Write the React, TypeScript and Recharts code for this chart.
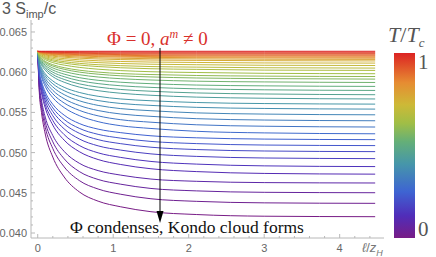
import React from 'react'
import { LineChart, Line, XAxis, YAxis, ReferenceLine, ReferenceDot } from 'recharts'

// ell / z_H sample positions
const ellOverZ = [0, 0.02, 0.05, 0.1, 0.2, 0.35, 0.55, 0.8, 1.1, 1.5, 2.1, 3, 4.47]

// 3 S_imp / c, one row per temperature, lowest T first
const entropyCurves = [
  [0.0626, 0.05766, 0.05499, 0.05231, 0.04944, 0.04697, 0.04512, 0.04396, 0.04326, 0.04265, 0.0423, 0.04209, 0.04203],
  [0.0626, 0.05806, 0.0556, 0.05314, 0.0505, 0.04823, 0.04653, 0.04547, 0.04482, 0.04426, 0.04394, 0.04375, 0.04369],
  [0.0626, 0.05838, 0.05609, 0.0538, 0.05134, 0.04923, 0.04765, 0.04666, 0.04607, 0.04554, 0.04524, 0.04506, 0.04501],
  [0.0626, 0.05867, 0.05654, 0.05441, 0.05212, 0.05015, 0.04868, 0.04776, 0.0472, 0.04671, 0.04643, 0.04627, 0.04622],
  [0.0626, 0.05923, 0.05744, 0.05556, 0.05342, 0.05155, 0.05012, 0.04914, 0.04852, 0.04799, 0.04764, 0.04741, 0.04732],
  [0.0626, 0.05944, 0.05776, 0.056, 0.05399, 0.05224, 0.05089, 0.04997, 0.0494, 0.0489, 0.04857, 0.04835, 0.04826],
  [0.0626, 0.05966, 0.0581, 0.05645, 0.05458, 0.05295, 0.0517, 0.05084, 0.05031, 0.04984, 0.04953, 0.04933, 0.04925],
  [0.0626, 0.05985, 0.05839, 0.05685, 0.05511, 0.05358, 0.05241, 0.05161, 0.05111, 0.05067, 0.05038, 0.0502, 0.05012],
  [0.0626, 0.06002, 0.05864, 0.0572, 0.05556, 0.05412, 0.05302, 0.05227, 0.0518, 0.05139, 0.05112, 0.05094, 0.05087],
  [0.0626, 0.06018, 0.05889, 0.05754, 0.056, 0.05466, 0.05362, 0.05292, 0.05248, 0.05209, 0.05184, 0.05168, 0.05161],
  [0.0626, 0.06054, 0.05941, 0.05823, 0.05684, 0.0556, 0.0546, 0.05385, 0.05334, 0.053, 0.05265, 0.05245, 0.05234],
  [0.0626, 0.06071, 0.05967, 0.05858, 0.05731, 0.05617, 0.05526, 0.05457, 0.05409, 0.05378, 0.05346, 0.05328, 0.05318],
  [0.0626, 0.06087, 0.05991, 0.05892, 0.05774, 0.0567, 0.05586, 0.05523, 0.0548, 0.05451, 0.05422, 0.05405, 0.05396],
  [0.0626, 0.06102, 0.06014, 0.05923, 0.05816, 0.05721, 0.05645, 0.05587, 0.05547, 0.05521, 0.05494, 0.05479, 0.0547],
  [0.0626, 0.06116, 0.06036, 0.05954, 0.05856, 0.0577, 0.057, 0.05647, 0.05611, 0.05587, 0.05563, 0.05549, 0.05541],
  [0.0626, 0.06128, 0.06056, 0.0598, 0.05891, 0.05812, 0.05748, 0.057, 0.05667, 0.05645, 0.05623, 0.0561, 0.05603],
  [0.0626, 0.0615, 0.0609, 0.06024, 0.05944, 0.05875, 0.05815, 0.0577, 0.05738, 0.05713, 0.0569, 0.05676, 0.05667],
  [0.0626, 0.0616, 0.06105, 0.06046, 0.05972, 0.0591, 0.05855, 0.05815, 0.05785, 0.05763, 0.05742, 0.05729, 0.0572],
  [0.0626, 0.06169, 0.0612, 0.06066, 0.06, 0.05944, 0.05895, 0.05858, 0.05831, 0.05811, 0.05793, 0.05781, 0.05773],
  [0.0626, 0.06179, 0.06135, 0.06086, 0.06027, 0.05976, 0.05932, 0.05899, 0.05875, 0.05857, 0.0584, 0.0583, 0.05823],
  [0.0626, 0.06188, 0.06149, 0.06106, 0.06053, 0.06008, 0.05969, 0.0594, 0.05919, 0.05903, 0.05888, 0.05879, 0.05872],
  [0.0626, 0.06196, 0.06161, 0.06123, 0.06076, 0.06036, 0.06001, 0.05975, 0.05955, 0.05941, 0.05928, 0.0592, 0.05914],
  [0.0626, 0.06202, 0.0617, 0.06135, 0.06093, 0.06056, 0.06025, 0.06001, 0.05983, 0.05971, 0.05959, 0.05951, 0.05946],
  [0.0626, 0.06212, 0.06185, 0.06156, 0.06119, 0.06088, 0.0606, 0.06037, 0.0602, 0.06006, 0.05996, 0.05986, 0.05981],
  [0.0626, 0.06219, 0.06196, 0.06171, 0.06139, 0.06113, 0.06089, 0.0607, 0.06055, 0.06043, 0.06035, 0.06026, 0.06022],
  [0.0626, 0.06224, 0.06204, 0.06182, 0.06154, 0.06131, 0.0611, 0.06093, 0.06081, 0.0607, 0.06063, 0.06055, 0.06051],
  [0.0626, 0.0623, 0.06213, 0.06194, 0.0617, 0.06151, 0.06133, 0.06119, 0.06108, 0.06099, 0.06093, 0.06086, 0.06083],
  [0.0626, 0.06235, 0.06221, 0.06205, 0.06185, 0.06169, 0.06154, 0.06142, 0.06133, 0.06126, 0.06121, 0.06115, 0.06113],
  [0.0626, 0.06239, 0.06228, 0.06215, 0.06199, 0.06186, 0.06174, 0.06164, 0.06157, 0.06151, 0.06147, 0.06143, 0.0614],
  [0.0626, 0.06243, 0.06233, 0.06222, 0.06209, 0.06198, 0.06188, 0.06179, 0.06173, 0.06168, 0.06165, 0.06161, 0.06159],
  [0.0626, 0.06246, 0.06238, 0.0623, 0.06219, 0.06209, 0.06201, 0.06194, 0.06188, 0.06184, 0.0618, 0.06177, 0.06174],
  [0.0626, 0.06248, 0.06241, 0.06234, 0.06225, 0.06216, 0.06209, 0.06203, 0.06198, 0.06194, 0.06191, 0.06188, 0.06186],
  [0.0626, 0.0625, 0.06244, 0.06239, 0.06231, 0.06224, 0.06218, 0.06213, 0.06209, 0.06206, 0.06203, 0.06201, 0.06199],
  [0.0626, 0.06252, 0.06247, 0.06243, 0.06236, 0.06231, 0.06226, 0.06222, 0.06219, 0.06216, 0.06214, 0.06212, 0.06211],
  [0.0626, 0.06254, 0.06251, 0.06247, 0.06243, 0.06238, 0.06235, 0.06232, 0.06229, 0.06228, 0.06226, 0.06225, 0.06224],
  [0.0626, 0.06256, 0.06254, 0.06251, 0.06248, 0.06245, 0.06243, 0.06241, 0.06239, 0.06238, 0.06237, 0.06236, 0.06235],
  [0.0626, 0.06258, 0.06257, 0.06256, 0.06254, 0.06253, 0.06252, 0.06251, 0.0625, 0.06249, 0.06249, 0.06249, 0.06248],
  [0.0626, 0.0626, 0.0626, 0.0626, 0.0626, 0.0626, 0.0626, 0.0626, 0.0626, 0.0626, 0.0626, 0.0626, 0.0626],
]

// frame ticks (major get a label)
const xTicks = [0, 0.2, 0.4, 0.6, 0.8, 1, 1.2, 1.4, 1.6, 1.8, 2, 2.2, 2.4, 2.6, 2.8, 3, 3.2, 3.4, 3.6, 3.8, 4, 4.2, 4.4]
const yTicks = [
  0.04, 0.041, 0.042, 0.043, 0.044, 0.045, 0.046, 0.047, 0.048, 0.049, 0.05, 0.051, 0.052, 0.053,
  0.054, 0.055, 0.056, 0.057, 0.058, 0.059, 0.06, 0.061, 0.062, 0.063, 0.064, 0.065, 0.066,
]

// mathematica-ish rainbow
const rainbowStops: [number, number[]][] = [
  [0, [120, 28, 134]],
  [0.12, [80, 45, 185]],
  [0.25, [62, 100, 210]],
  [0.4, [70, 150, 170]],
  [0.52, [100, 175, 120]],
  [0.62, [160, 190, 70]],
  [0.72, [205, 185, 55]],
  [0.84, [230, 140, 50]],
  [1, [220, 35, 35]],
]

function rainbow(t: number) {
  for (let i = 1; i < rainbowStops.length; i++) {
    const [t1, c1] = rainbowStops[i]
    const [t0, c0] = rainbowStops[i - 1]
    if (t <= t1) {
      const f = (t - t0) / (t1 - t0)
      const c = c0.map((v, j) => Math.round(v + (c1[j] - v) * f))
      return `rgb(${c[0]},${c[1]},${c[2]})`
    }
  }
  return 'rgb(220,35,35)'
}

const frame = '#b8b8b8'
const tickText = '#666'
const plot = { left: 31, right: 384, top: 20, bottom: 238 }
const serif = '"Liberation Serif", "DejaVu Serif", serif'
const sans = '"Liberation Sans", Arial, sans-serif'

const rows = ellOverZ.map((x, i) => {
  const r: Record<string, number> = { x }
  entropyCurves.forEach((c, k) => (r['c' + k] = c[i]))
  return r
})

const isInt = (v: number, step: number) => Math.abs(v / step - Math.round(v / step)) < 1e-6

const BottomTick = (p: any) => {
  const v = p.payload.value
  const major = isInt(v, 1)
  return (
    <g>
      <line x1={p.x} x2={p.x} y1={plot.bottom} y2={plot.bottom - (major ? 4 : 2)} stroke={frame} />
      {major && (
        <text x={p.x} y={251.5} textAnchor="middle" fill={tickText} fontSize={11} fontFamily={sans}>
          {v}
        </text>
      )}
    </g>
  )
}

const TopTick = (p: any) => {
  const major = isInt(p.payload.value, 1)
  return <line x1={p.x} x2={p.x} y1={plot.top} y2={plot.top + (major ? 4 : 2)} stroke={frame} />
}

const LeftTick = (p: any) => {
  const v = p.payload.value
  const major = isInt(v, 0.005)
  return (
    <g>
      <line x1={plot.left} x2={plot.left + (major ? 4 : 2)} y1={p.y} y2={p.y} stroke={frame} />
      {major && (
        <text x={27} y={p.y} dy="0.36em" textAnchor="end" fill={tickText} fontSize={11} fontFamily={sans}>
          {v.toFixed(3)}
        </text>
      )}
    </g>
  )
}

const RightTick = (p: any) => {
  const major = isInt(p.payload.value, 0.005)
  return <line x1={plot.right} x2={plot.right - (major ? 4 : 2)} y1={p.y} y2={p.y} stroke={frame} />
}

const ArrowHead = (p: any) => {
  const { cx, cy } = p
  return <path d={`M${cx},${cy} L${cx - 3.5},${cy - 12} L${cx + 3.5},${cy - 12} Z`} fill="#000" />
}

const gradientCss =
  'linear-gradient(to top, ' +
  rainbowStops.map(([t, c]) => `rgb(${c[0]},${c[1]},${c[2]}) ${t * 100}%`).join(', ') +
  ')'

export default function App() {
  const n = entropyCurves.length
  return (
    <div style={{ position: 'absolute', left: 0, top: 0, width: 436, height: 257, background: '#fff' }}>
      <LineChart width={436} height={257} data={rows} margin={{ top: 20, right: 52, bottom: 0, left: 0 }}>
        <XAxis
          xAxisId="b"
          dataKey="x"
          type="number"
          domain={[-0.089, 4.587]}
          allowDataOverflow
          ticks={xTicks}
          interval={0}
          height={19}
          tickLine={false}
          axisLine={{ stroke: frame }}
          tick={BottomTick}
        />
        <XAxis
          xAxisId="t"
          orientation="top"
          dataKey="x"
          type="number"
          domain={[-0.089, 4.587]}
          allowDataOverflow
          ticks={xTicks}
          interval={0}
          height={0}
          tickLine={false}
          axisLine={{ stroke: frame }}
          tick={TopTick}
        />
        <YAxis
          yAxisId="l"
          type="number"
          domain={[0.03938, 0.06649]}
          allowDataOverflow
          ticks={yTicks}
          interval={0}
          width={31}
          tickLine={false}
          axisLine={{ stroke: frame }}
          tick={LeftTick}
        />
        <YAxis
          yAxisId="r"
          orientation="right"
          type="number"
          domain={[0.03938, 0.06649]}
          allowDataOverflow
          ticks={yTicks}
          interval={0}
          width={0}
          tickLine={false}
          axisLine={{ stroke: frame }}
          tick={RightTick}
        />
        {entropyCurves.map((_, k) => (
          <Line
            key={k}
            xAxisId="b"
            yAxisId="l"
            dataKey={'c' + k}
            type="monotone"
            stroke={rainbow(k / (n - 1))}
            strokeWidth={1}
            dot={false}
            isAnimationActive={false}
          />
        ))}
        <ReferenceLine
          xAxisId="b"
          yAxisId="l"
          segment={[
            { x: 1.62, y: 0.06301 },
            { x: 1.62, y: 0.0425 },
          ]}
          stroke="#000"
          strokeWidth={1}
        />
        <ReferenceDot xAxisId="b" yAxisId="l" x={1.62} y={0.04124} shape={ArrowHead} />
      </LineChart>

      <div style={{ position: 'absolute', left: 2, top: 0, fontFamily: sans, fontSize: 16, color: '#555', whiteSpace: 'nowrap' }}>
        3 S<sub style={{ fontSize: 11 }}>imp</sub>/c
      </div>
      <div style={{ position: 'absolute', left: 107, top: 27, fontFamily: serif, fontSize: 19, color: '#d9302c', whiteSpace: 'nowrap' }}>
        Φ = 0, <i>a</i>
        <sup style={{ fontSize: 12 }}>
          <i>m</i>
        </sup>{' '}
        ≠ 0
      </div>
      <div style={{ position: 'absolute', left: 70, top: 217, fontFamily: serif, fontSize: 17.5, color: '#111', whiteSpace: 'nowrap' }}>
        Φ condenses, Kondo cloud forms
      </div>
      <div style={{ position: 'absolute', left: 362, top: 240, fontFamily: sans, fontSize: 13, color: '#777', whiteSpace: 'nowrap' }}>
        <i>ℓ</i>/<i>z</i>
        <sub style={{ fontSize: 9 }}>
          <i>H</i>
        </sub>
      </div>
      <div style={{ position: 'absolute', left: 388, top: 22, fontFamily: serif, fontSize: 22, color: '#555', whiteSpace: 'nowrap' }}>
        <i>T</i>/<i>T</i>
        <sub style={{ fontSize: 13 }}>
          <i>c</i>
        </sub>
      </div>
      <div style={{ position: 'absolute', left: 394, top: 53, width: 21, height: 185, background: gradientCss }} />
      <div style={{ position: 'absolute', left: 418, top: 50, fontFamily: serif, fontSize: 21, color: '#555' }}>1</div>
      <div style={{ position: 'absolute', left: 418, top: 217, fontFamily: serif, fontSize: 21, color: '#555' }}>0</div>
    </div>
  )
}
